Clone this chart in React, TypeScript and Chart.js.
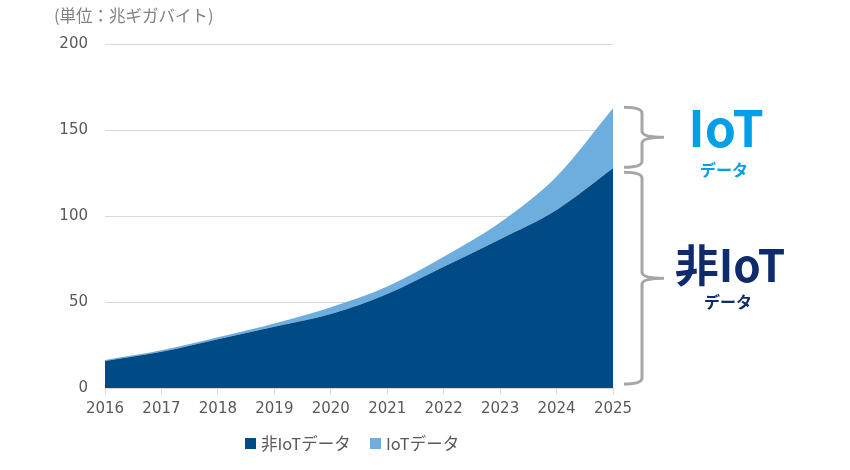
import React, { useEffect, useRef } from "react";
import { Chart, registerables } from "chart.js";

Chart.register(...registerables);

const years = ["2016", "2017", "2018", "2019", "2020", "2021", "2022", "2023", "2024", "2025"];
const nonIotData = [15.7, 21.1, 28.4, 35.6, 43.0, 54.7, 70.5, 86.5, 103.5, 127.7];
const iotData = [0.6, 0.8, 1.1, 1.9, 4.0, 4.3, 5.8, 9.7, 19.4, 34.9];
const yTickValues = [0, 50, 100, 150, 200];
const seriesNames = ["非IoTデータ", "IoTデータ"];
const unitLabel = "(単位：兆ギガバイト)";

const DARK = "#004a85";
const LIGHT = "#6eaedf";
const CYAN = "#00a0e9";
const NAVY = "#0f2b6b";
const BRACE = "#a6a6a6";
const FONT = "'DejaVu Sans', sans-serif";
const JP = "'Noto Sans CJK JP', sans-serif";

function drawBrace(ctx: CanvasRenderingContext2D, xl: number, xv: number, xt: number, y1: number, y2: number) {
  const mid = (y1 + y2) / 2;
  const r = 6;
  ctx.beginPath();
  ctx.moveTo(xl, y1);
  ctx.quadraticCurveTo(xv, y1, xv, y1 + r);
  ctx.lineTo(xv, mid - r);
  ctx.quadraticCurveTo(xv, mid, xt, mid);
  ctx.quadraticCurveTo(xv, mid, xv, mid + r);
  ctx.lineTo(xv, y2 - r);
  ctx.quadraticCurveTo(xv, y2, xl, y2);
  ctx.stroke();
}

const annotationPlugin = {
  id: "bracesAnnotation",
  afterDraw(chart: any) {
    const ctx = chart.ctx as CanvasRenderingContext2D;
    const y = chart.scales.y;
    const last = years.length - 1;
    const nonTop = y.getPixelForValue(nonIotData[last]);
    const totTop = y.getPixelForValue(nonIotData[last] + iotData[last]);
    const zero = y.getPixelForValue(0);
    ctx.save();
    ctx.strokeStyle = BRACE;
    ctx.lineWidth = 3;
    ctx.lineCap = "butt";
    drawBrace(ctx, 624, 642, 664, totTop - 1, nonTop - 1);
    drawBrace(ctx, 624, 642, 664, nonTop + 4, zero - 4);

    const midTop = (totTop + nonTop) / 2;
    const midLow = (nonTop + zero) / 2;
    ctx.textAlign = "center";
    ctx.textBaseline = "middle";
    ctx.fillStyle = CYAN;
    ctx.font = `bold 50px ${JP}`;
    ctx.fillText("IoT", 726, midTop - 10);
    ctx.font = `bold 16px ${JP}`;
    ctx.fillText("データ", 724, midTop + 32);
    ctx.fillStyle = NAVY;
    ctx.font = `bold 44px ${JP}`;
    ctx.fillText("非IoT", 730, midLow - 13);
    ctx.font = `bold 16px ${JP}`;
    ctx.fillText("データ", 728, midLow + 24);
    ctx.restore();
  },
};

export default function App() {
  const canvasRef = useRef<HTMLCanvasElement | null>(null);

  useEffect(() => {
    if (!canvasRef.current) return;
    const chart = new Chart(canvasRef.current, {
      type: "line",
      data: {
        labels: years,
        datasets: [
          {
            label: seriesNames[0],
            data: nonIotData,
            backgroundColor: DARK,
            borderColor: DARK,
            borderWidth: 0,
            pointRadius: 0,
            fill: "origin",
            cubicInterpolationMode: "monotone",
          },
          {
            label: seriesNames[1],
            data: iotData,
            backgroundColor: LIGHT,
            borderColor: LIGHT,
            borderWidth: 0,
            pointRadius: 0,
            fill: "-1",
            cubicInterpolationMode: "monotone",
          },
        ],
      },
      options: {
        responsive: false,
        animation: false,
        layout: { padding: { top: 44, right: 237, bottom: 0, left: 0 } },
        plugins: {
          legend: { display: false },
          tooltip: { enabled: false },
        },
        scales: {
          x: {
            offset: false,
            grid: {
              drawOnChartArea: false,
              drawTicks: true,
              tickLength: 6,
              color: "#d9d9d9",
            },
            border: { display: true, color: "#d9d9d9", width: 1 },
            ticks: {
              color: "#595959",
              font: { family: FONT, size: 15 },
              padding: 6,
              maxRotation: 0,
              autoSkip: false,
            },
            afterFit: (scale: any) => {
              scale.height = 82;
            },
          },
          y: {
            stacked: true,
            min: 0,
            max: 200,
            afterBuildTicks: (scale: any) => {
              scale.ticks = yTickValues.map((v) => ({ value: v }));
            },
            grid: { color: "#d9d9d9", drawTicks: false, lineWidth: 1 },
            border: { display: false },
            ticks: {
              color: "#595959",
              font: { family: FONT, size: 15 },
              padding: 17,
            },
            afterFit: (scale: any) => {
              scale.width = 105;
            },
          },
        },
      },
      plugins: [annotationPlugin],
    });
    return () => chart.destroy();
  }, []);

  const legendText: React.CSSProperties = {
    position: "absolute",
    top: 433,
    fontFamily: JP,
    fontSize: 16.5,
    color: "#595959",
    lineHeight: "20px",
    whiteSpace: "nowrap",
  };
  const sq = (left: number, color: string): React.CSSProperties => ({
    position: "absolute",
    left,
    top: 438,
    width: 11,
    height: 11,
    background: color,
  });

  return (
    <div style={{ position: "absolute", left: 0, top: 0, width: 850, height: 470, background: "#fff" }}>
      <canvas ref={canvasRef} width={850} height={470} style={{ position: "absolute", left: 0, top: 0 }} />
      <div
        style={{
          position: "absolute",
          left: 54,
          top: 4,
          fontFamily: JP,
          fontSize: 16.5,
          color: "#808080",
          lineHeight: "22px",
          whiteSpace: "nowrap",
        }}
      >
        {unitLabel}
      </div>
      <div style={sq(245, DARK)} />
      <div style={{ ...legendText, left: 261 }}>{seriesNames[0]}</div>
      <div style={sq(370, LIGHT)} />
      <div style={{ ...legendText, left: 386 }}>{seriesNames[1]}</div>
    </div>
  );
}
